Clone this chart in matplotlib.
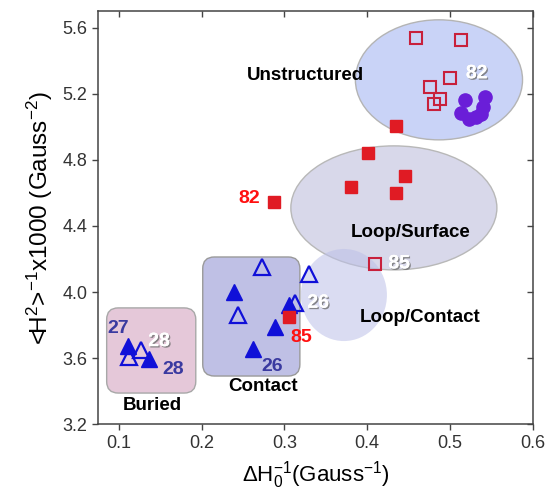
import matplotlib.pyplot as plt
from matplotlib.patches import Ellipse, FancyBboxPatch
import matplotlib.patheffects as pe

plt.rcParams['font.family'] = ['Liberation Sans', 'DejaVu Sans']
plt.rcParams['mathtext.fontset'] = 'custom'
plt.rcParams['mathtext.rm'] = 'Liberation Sans'
plt.rcParams['mathtext.it'] = 'Liberation Sans:italic'

# data
open_sq_x = [0.459, 0.513, 0.500, 0.476, 0.488, 0.481, 0.410]
open_sq_y = [5.536, 5.526, 5.293, 5.241, 5.166, 5.135, 4.168]
filled_sq_x = [0.435, 0.401, 0.446, 0.380, 0.435, 0.2875, 0.306]
filled_sq_y = [5.005, 4.840, 4.703, 4.634, 4.598, 4.545, 3.851]
circle_x = [0.518, 0.542, 0.540, 0.538, 0.513, 0.523, 0.531]
circle_y = [5.159, 5.182, 5.122, 5.078, 5.082, 5.048, 5.060]
filled_tri_x = [0.111, 0.136, 0.239, 0.288, 0.262, 0.306]
filled_tri_y = [3.674, 3.595, 4.002, 3.791, 3.654, 3.922]
open_tri_x = [0.126, 0.112, 0.273, 0.244, 0.3125, 0.330]
open_tri_y = [3.650, 3.607, 4.150, 3.861, 3.932, 4.110]

region_names = ["Unstructured", "Loop/Surface", "Loop/Contact", "Contact", "Buried"]
region_x = [0.325, 0.452, 0.464, 0.274, 0.140]
region_y = [5.308, 4.358, 3.843, 3.428, 3.313]

fig = plt.figure(figsize=(5.48, 4.99), dpi=100)
ax = fig.add_axes([0.1794, 0.1497, 0.7927, 0.8283])

# shaded regions
ax.add_patch(Ellipse((0.4867, 5.2835), 0.202, 0.726, fc="#c9d3f7", ec="#b4b4b4", lw=1, zorder=1))
ax.add_patch(Ellipse((0.4322, 4.509), 0.249, 0.750, fc="#d8d8ea", ec="#b8b8b8", lw=1, zorder=1))
ax.add_patch(Ellipse((0.3718, 3.982), 0.104, 0.557, fc="#bcc0e8", ec="none", alpha=0.55, zorder=1.5))
ax.add_patch(FancyBboxPatch((0.2012, 3.492), 0.1174, 0.720,
                            boxstyle="round,pad=0,rounding_size=0.014", mutation_aspect=5.0,
                            fc="#bfc0e5", ec="#9a9a9a", lw=1, zorder=1))
ax.add_patch(FancyBboxPatch((0.0851, 3.389), 0.1077, 0.515,
                            boxstyle="round,pad=0,rounding_size=0.014", mutation_aspect=5.0,
                            fc="#e5c8d9", ec="#a8a8a8", lw=1, zorder=1))

ax.plot(filled_tri_x, filled_tri_y, "^", ms=11, color="#1010d8", ls="none", zorder=3)
ax.plot(open_tri_x, open_tri_y, "^", ms=11, mfc="none", mec="#1010d8", mew=1.6, ls="none", zorder=3)
ax.plot(circle_x, circle_y, "o", ms=9.5, color="#6a1ed8", ls="none", zorder=3)
ax.plot(open_sq_x, open_sq_y, "s", ms=8, mfc="none", mec="#c8203c", mew=1.5, ls="none", zorder=4)
ax.plot(filled_sq_x, filled_sq_y, "s", ms=8.5, color="#e01b24", ls="none", zorder=4)

for name, x, y in zip(region_names, region_x, region_y):
    ax.text(x, y, name, fontsize=13.5, fontweight="bold", ha="center", va="center", zorder=5)

shadow = [pe.withSimplePatchShadow(offset=(1, -1), shadow_rgbFace="#707070", alpha=0.8), pe.Normal()]
lab = dict(fontsize=14, fontweight="bold", ha="center", va="center", zorder=5)
ax.text(0.099, 3.78, "27", color="#3a3aa0", **lab)
ax.text(0.1484, 3.70, "28", color="white", path_effects=shadow, **lab)
ax.text(0.1653, 3.529, "28", color="#3a3aa0", **lab)
ax.text(0.2855, 3.549, "26", color="#3a3aa0", **lab)
ax.text(0.3407, 3.932, "26", color="white", path_effects=shadow, **lab)
ax.text(0.3206, 3.726, "85", color="#ff1010", **lab)
ax.text(0.2572, 4.563, "82", color="#ff1010", **lab)
ax.text(0.4387, 4.170, "85", color="white", path_effects=shadow, **lab)
ax.text(0.5323, 5.320, "82", color="white", path_effects=shadow, **lab)

ax.set_xlim(0.075, 0.6)
ax.set_ylim(3.2, 5.7)
ax.set_xticks([0.1, 0.2, 0.3, 0.4, 0.5, 0.6])
ax.set_yticks([3.2, 3.6, 4.0, 4.4, 4.8, 5.2, 5.6])
ax.set_xticklabels(["0.1", "0.2", "0.3", "0.4", "0.5", "0.6"])
ax.set_yticklabels(["3.2", "3.6", "4.0", "4.4", "4.8", "5.2", "5.6"])
ax.tick_params(axis="both", which="major", labelsize=13, labelcolor="#333333", color="#444444",
               length=4.5, width=1, direction="out")
ax.tick_params(top=True, right=True, labeltop=False, labelright=False)
for t in ax.xaxis.get_ticklines()[1::2]:
    t.set_marker(3)  # top ticks inward
for t in ax.yaxis.get_ticklines()[1::2]:
    t.set_marker(0)  # right ticks inward
for s in ax.spines.values():
    s.set_color("#444444")
    s.set_linewidth(1.1)

ax.set_xlabel(r"$\Delta$H$_0^{-1}$(Gauss$^{-1}$)", fontsize=16, labelpad=5)
ax.set_ylabel(r"<H$^2$>$^{-1}$x1000 (Gauss$^{-2}$)", fontsize=17.5, labelpad=5)

fig.savefig("out.png", dpi=100)
